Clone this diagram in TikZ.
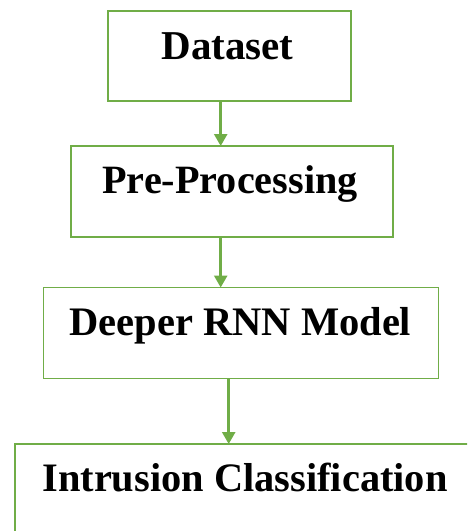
\documentclass[tikz,border=0pt]{standalone}
\usepackage{fontspec}
\setmainfont{Liberation Serif}
\usetikzlibrary{arrows.meta}
\definecolor{leaf}{HTML}{70AD47}
\tikzset{
  stage/.style={draw=leaf, line width=1.6pt, fill=white, anchor=north west,
    inner sep=0pt, outer sep=0pt},
  caption/.style={anchor=base, inner sep=0pt, font=\bfseries},
  flow/.style={draw=leaf, line width=2.6pt,
    -{Triangle[length=12pt,width=13pt]}, shorten >=0pt}
}
\begin{document}
\begin{tikzpicture}[x=1pt,y=-1pt]
  \useasboundingbox (0,0) rectangle (467,531);
  \clip (0,0) rectangle (467,531);
  % boxes
  \node[stage, minimum width=243pt, minimum height=90pt] (ds) at (108,11) {};
  \node[stage, minimum width=322pt, minimum height=91pt] (pp) at (71,146) {};
  \node[stage, minimum width=395pt, minimum height=91pt] (rnn) at (43.5,287.5) {};
  \node[stage, minimum width=470pt, minimum height=100pt] (ic) at (15,444) {};
  % labels
  \node[caption, font=\bfseries\fontsize{41}{41}\selectfont] (tds) at (227.5,59) {Dataset};
  \node[caption, font=\bfseries\fontsize{40.2}{40}\selectfont] (tpp) at (230,193.3) {Pre-Processing};
  \node[caption, font=\bfseries\fontsize{40.5}{40}\selectfont] (trnn) at (240.3,335) {Deeper RNN Model};
  \node[caption, font=\bfseries\fontsize{40.4}{40}\selectfont] (tic) at (245,491.7) {Intrusion Classification};
  % connector columns
  \coordinate (c1) at (220.7,0);
  \coordinate (c2) at (228.7,0);
  % arrows
  \draw[flow] (ds.south -| c1) -- (pp.north -| c1);
  \draw[flow] (pp.south -| c1) -- (rnn.north -| c1);
  \draw[flow] (rnn.south -| c2) -- (ic.north -| c2);
\end{tikzpicture}
\end{document}
